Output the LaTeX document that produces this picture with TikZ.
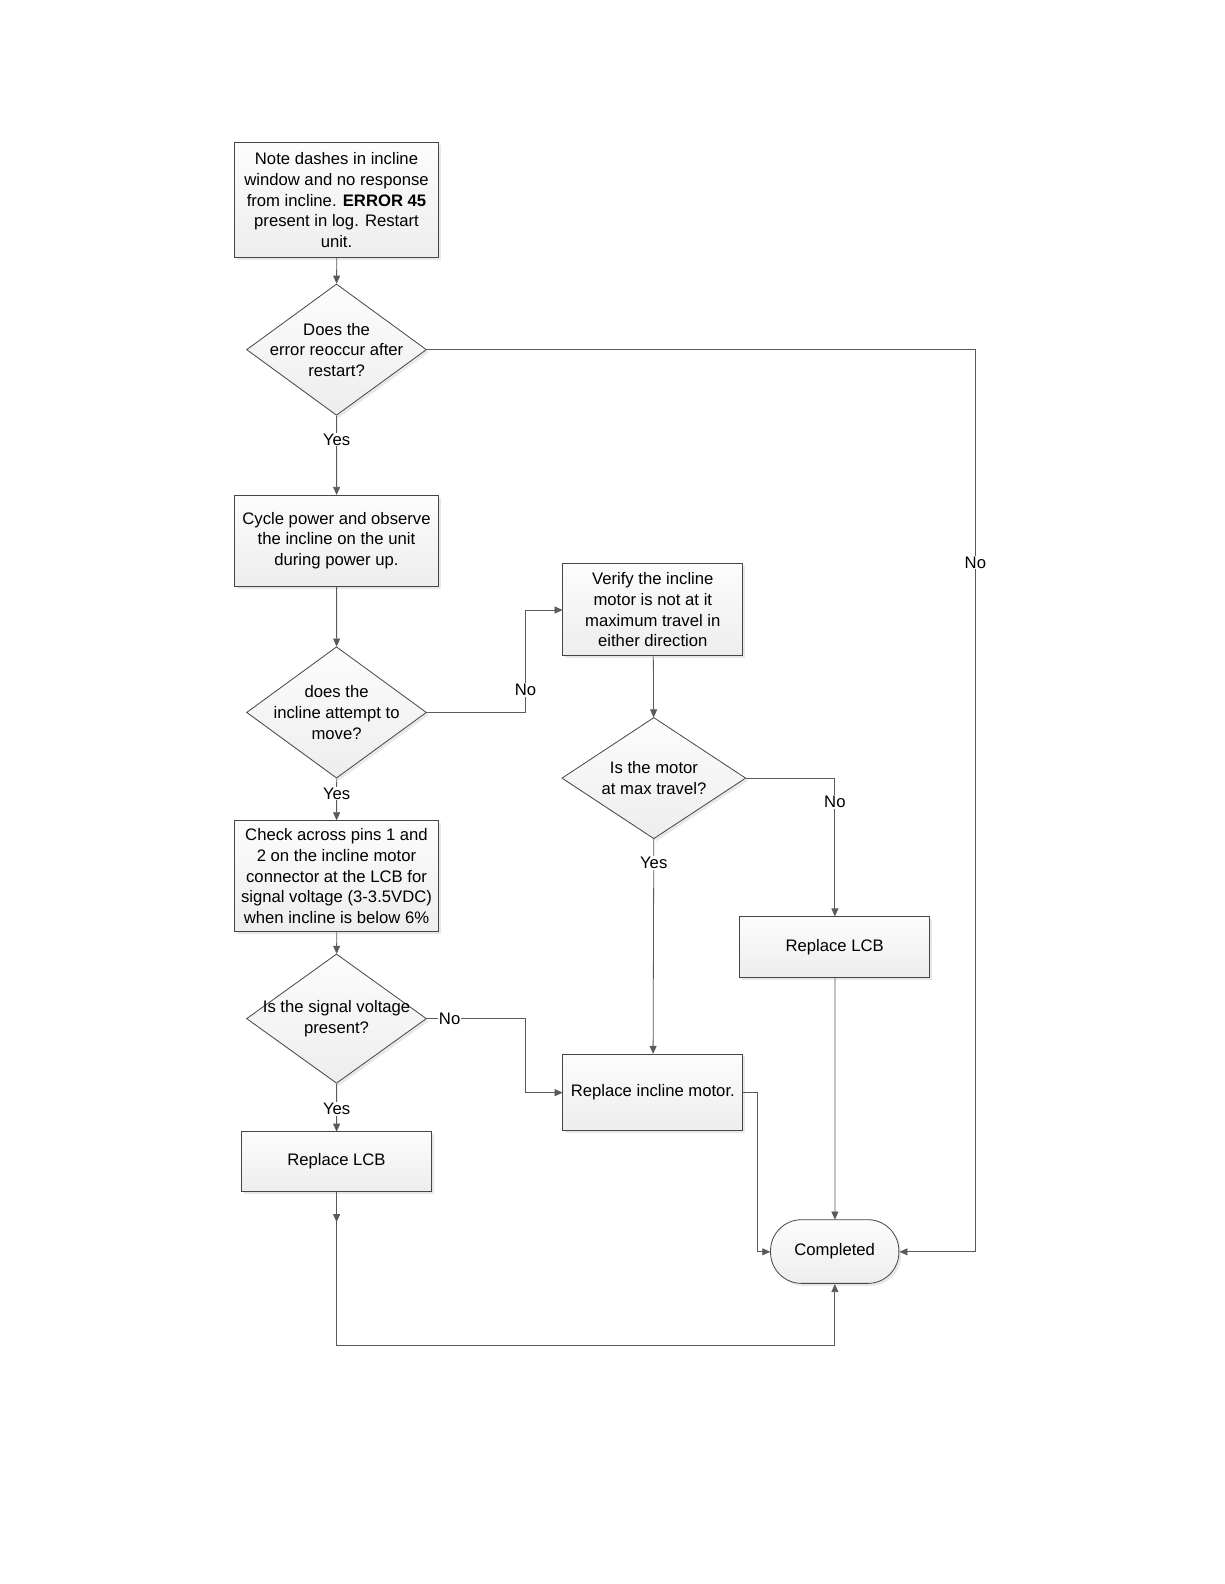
\documentclass[tikz,border=0pt]{standalone}
\usepackage{fontspec}
\setmainfont{Liberation Sans}
\usetikzlibrary{shapes.geometric,arrows.meta,shadows,decorations.markings,calc}
\definecolor{edgec}{HTML}{454545}
\definecolor{linec}{HTML}{5A5A5A}
\begin{document}
\begin{tikzpicture}[x=1pt,y=-1pt,scale=1.0105,
  every node/.style={transform shape,font=\fontsize{16.5}{20.4}\selectfont, text=black},
  shadowed/.style={drop shadow={opacity=0.18,shadow xshift=2.5pt,shadow yshift=-2.5pt,fill=gray}},
  filled/.style={top color=gray!2,bottom color=gray!14,draw=edgec,line width=0.8pt,shadowed},
  procbox/.style={filled,rectangle,align=center,inner sep=2pt},
  decbox/.style={filled,diamond,inner sep=0pt},
  termbox/.style={filled,rectangle,rounded corners=31pt,align=center},
  arr/.style={draw=linec,line width=0.8pt,-{Triangle[length=8pt,width=7pt]}},
  lbl/.style={fill=white,inner sep=1pt}
]
\path[fill=white] (0,0) rectangle (1211.3,1567.5);

% process boxes
\node[procbox,minimum width=202,minimum height=114] (b1) at (333,198)
  {Note dashes in incline\\window and no response\\from incline. \textbf{ERROR 45}\\present in log. Restart\\unit.};
\node[procbox,minimum width=202,minimum height=90] (b2) at (333,535)
  {Cycle power and observe\\the incline on the unit\\during power up.};
\node[procbox,minimum width=202,minimum height=110] (b3) at (333,867)
  {Check across pins 1 and\\2 on the incline motor\\connector at the LCB for\\signal voltage (3-3.5VDC)\\when incline is below 6\%};
\node[procbox,minimum width=188,minimum height=59] (b4) at (333,1149.5) {Replace LCB};
\node[procbox,minimum width=178,minimum height=91] (b5) at (646,603.5)
  {Verify the incline\\motor is not at it\\maximum travel in\\either direction};
\node[procbox,minimum width=188,minimum height=60] (b6) at (826,937) {Replace LCB};
\node[procbox,minimum width=178,minimum height=76] (b7) at (646,1081) {Replace incline motor.};

% decisions
\node[decbox,minimum width=178,minimum height=130,
  label={[align=center]center:Does the\\error reoccur after\\restart?}] (d1) at (333,346) {};
\node[decbox,minimum width=178,minimum height=130,
  label={[align=center]center:does the\\incline attempt to\\move?}] (d2) at (333,705) {};
\node[decbox,minimum width=178,minimum height=128,
  label={[align=center]center:Is the signal voltage\\present?}] (d3) at (333,1008) {};
\node[decbox,minimum width=182,minimum height=120,
  label={[align=center]center:Is the motor\\at max travel?}] (d4) at (647,770) {};

% terminator
\node[termbox,minimum width=127,minimum height=63] (done) at (826,1238.5) {Completed};

% helper corners
\coordinate (k1) at (965,346);
\coordinate (k2) at (520,705);
\coordinate (k3) at (520,1008);
\coordinate (k4) at (826,770);
\coordinate (k5) at (749,1081);
\coordinate (k6) at (333,1331);

% connectors
\draw[arr] (b1) -- (d1);
\draw[arr] (d1) -- node[lbl,pos=0.30] {Yes} (b2);
\draw[arr] (d1.east) -- (k1) -- node[lbl,pos=0.236] {No} (k1 |- done.east) -- (done.east);
\draw[arr] (b2) -- (d2);
\draw[arr] (d2.east) -- (k2) -- node[lbl,pos=0.22] {No} (k2 |- b5.west) -- (b5.west);
\draw[arr] (d2) -- node[lbl,pos=0.36] {Yes} (b3);
\draw[arr] (b3) -- (d3);
\draw[arr] (d3.east) -- node[lbl,pos=0.23] {No} (k3) -- (k3 |- b7.west) -- (b7.west);
\draw[arr] (d3) -- node[lbl,pos=0.52] {Yes} (b4);
\draw[arr] (b5) -- (d4);
\draw[arr] (d4.east) -- (k4) -- node[lbl,pos=0.17] {No} (b6.north);
\draw[arr] (d4) -- node[lbl,pos=0.11] {Yes} (b7);
\draw[arr] (b6) -- (done);
\draw[arr] (b7.east) -- (k5) -- (k5 |- done.west) -- (done.west);
\draw[arr,postaction={decorate},
  decoration={markings,mark=at position 30pt with {\arrow[linec]{Triangle[length=8pt,width=7pt]}}}]
  (b4.south) -- (k6) -- (k6 -| done.south) -- (done.south);

\pgfresetboundingbox
\path[use as bounding box] (0,0) rectangle (1211.3,1567.5);
\end{tikzpicture}
\end{document}
